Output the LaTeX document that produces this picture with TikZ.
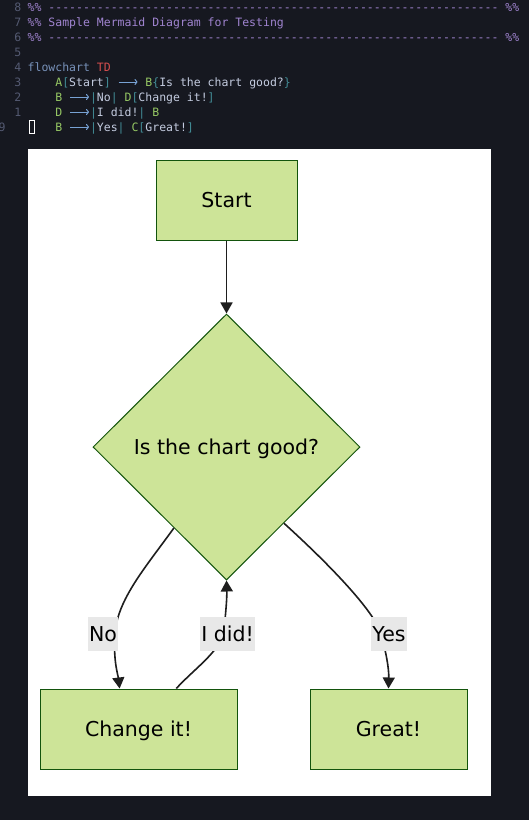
\documentclass[tikz,border=0pt]{standalone}
\usepackage{fontspec}
\newfontfamily\labfont{DejaVu Sans}
\newfontfamily\codefont{DejaVu Sans Mono}
\usetikzlibrary{shapes.geometric,arrows.meta}
\definecolor{bgdark}{RGB}{22,24,32}
\definecolor{cnum}{RGB}{84,90,114}
\definecolor{ccom}{RGB}{160,132,208}
\definecolor{ckw}{RGB}{120,146,186}
\definecolor{ctd}{RGB}{214,78,78}
\definecolor{cid}{RGB}{150,200,100}
\definecolor{cbr}{RGB}{66,140,150}
\definecolor{ctx}{RGB}{196,204,224}
\definecolor{car}{RGB}{120,162,212}
\definecolor{nodefill}{RGB}{205,228,152}
\definecolor{nodestroke}{RGB}{19,84,12}
\definecolor{edgecol}{RGB}{30,30,30}
\definecolor{lblbg}{RGB}{232,232,232}
\newcommand\dashrun[1]{\ifnum#1>0 -{}\expandafter\dashrun\expandafter{\the\numexpr#1-1\relax}\fi}
\tikzset{
  codeline/.style={anchor=base west, inner sep=0pt, font=\codefont\fontsize{11.5}{14}\selectfont},
  lnum/.style={anchor=base east, inner sep=0pt, text=cnum, font=\codefont\fontsize{11.5}{14}\selectfont},
  codearrow/.style={draw=car, line width=1pt, -{To[length=3pt,width=6pt]}},
  box/.style={draw=nodestroke, fill=nodefill, line width=1pt, rectangle, minimum height=80pt,
    text height=15pt, text depth=0pt, inner sep=0pt, font=\labfont\fontsize{20.5}{24}\selectfont},
  decision/.style={draw=nodestroke, fill=nodefill, line width=1pt, diamond, minimum width=267pt,
    minimum height=266pt, inner sep=0pt, text height=15pt, text depth=0pt, font=\labfont\fontsize{20.5}{24}\selectfont},
  edge/.style={draw=edgecol, line width=1.6pt, -{Triangle[length=11pt,width=12pt]}},
  elabel/.style={fill=lblbg, inner xsep=1pt, inner ysep=0pt, minimum height=34pt, text height=15pt,
    text depth=0pt, font=\labfont\fontsize{20.5}{24}\selectfont}
}
\begin{document}
\begin{tikzpicture}[x=1pt,y=-1pt]
\fill[bgdark] (0,0) rectangle (529,820);
\useasboundingbox (0,0) rectangle (529,820);
% line numbers
\node[lnum] (n8) at (21.5,11.2) {8};
\node[lnum] (n7) at (21.5,26.2) {7};
\node[lnum] (n6) at (21.5,41.2) {6};
\node[lnum] (n5) at (21.5,56.2) {5};
\node[lnum] (n4) at (21.5,71.2) {4};
\node[lnum] (n3) at (21.5,86.2) {3};
\node[lnum] (n2) at (21.5,101.2) {2};
\node[lnum] (n1) at (21.5,116.2) {1};
\node[lnum, anchor=base west] (n9) at (-1.5,131.2) {9};
% code
\node[codeline, text=ccom] (l8) at (27.5,11.2) {\%\%\ \dashrun{65}\ \%\%};
\node[codeline, text=ccom] (l7) at (27.5,26.2) {\%\% Sample Mermaid Diagram for Testing};
\node[codeline, text=ccom] (l6) at (27.5,41.2) {\%\%\ \dashrun{65}\ \%\%};
\node[codeline] (l4) at (27.5,71.2) {\color{ckw}flowchart \color{ctd}TD};
\node[codeline] (l3) at (55.2,86.2) {\color{cid}A\color{cbr}[\color{ctx}Start\color{cbr}]\ \hphantom{000}\ \color{cid}B\color{cbr}\{\color{ctx}Is the chart good?\color{cbr}\}};
\node[codeline] (l2) at (55.2,101.2) {\color{cid}B\ \hphantom{000}\color{cbr}|\color{ctx}No\color{cbr}|\ \color{cid}D\color{cbr}[\color{ctx}Change it!\color{cbr}]};
\node[codeline] (l1) at (55.2,116.2) {\color{cid}D\ \hphantom{000}\color{cbr}|\color{ctx}I did!\color{cbr}|\ \color{cid}B};
\node[codeline] (l9) at (55.2,131.2) {\color{cid}B\ \hphantom{000}\color{cbr}|\color{ctx}Yes\color{cbr}|\ \color{cid}C\color{cbr}[\color{ctx}Great!\color{cbr}]};
\draw[codearrow] (118.5,82) -- (137.5,82);
\draw[codearrow] (70,97) -- (89,97);
\draw[codearrow] (70,112) -- (89,112);
\draw[codearrow] (70,127) -- (89,127);
\draw[white, line width=1pt] (29,120.5) rectangle (34.5,133);
% diagram panel
\fill[white] (28,149) rectangle (491,796);
\node[box, minimum width=141pt] (A) at (226.5,200) {Start};
\node[decision] (B) at (226.5,447) {Is the chart good?};
\node[box, minimum width=197pt] (D) at (138.5,729) {Change it!};
\node[box, minimum width=157pt] (C) at (388.5,729) {Great!};
\draw[edge] (A) -- (B);
\draw[edge] (B.237) .. controls (145,568) and (117,600) .. (115,634) .. controls (113,660) and (118,675) .. (D.115);
\draw[edge] (D.47) .. controls (195,668) and (222,650) .. (224,630) .. controls (226,610) and (227,598) .. (B.south);
\draw[edge] (B.-53) .. controls (330,565) and (375,612) .. (381,634) .. controls (386,652) and (389,668) .. (C.north);
\node[elabel] (lNo) at (103,634) {No};
\node[elabel] (lDid) at (227.5,634) {I did!};
\node[elabel] (lYes) at (389,634) {Yes};
\end{tikzpicture}
\end{document}
